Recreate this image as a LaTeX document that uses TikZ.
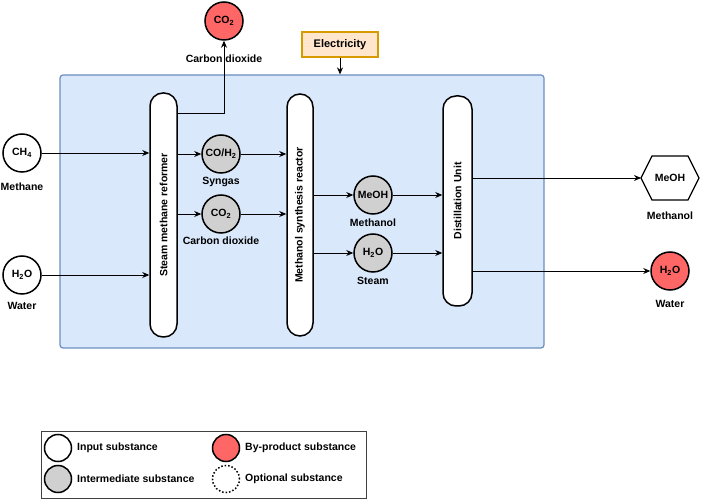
\documentclass[tikz,border=0pt]{standalone}
\usepackage{fontspec}
\setmainfont{Liberation Sans}
\usetikzlibrary{arrows.meta}
\definecolor{boxfill}{HTML}{DAE8FC}
\definecolor{boxline}{HTML}{6C8EBF}
\definecolor{elfill}{HTML}{FFE6CC}
\definecolor{elline}{HTML}{D79B00}
\definecolor{redfill}{HTML}{FF6666}
\definecolor{grayfill}{HTML}{D0D0D0}
\begin{document}
\begin{tikzpicture}[x=1pt,y=-1pt,
  font=\bfseries\fontsize{10.5}{12}\selectfont,
  subst/.style={circle, draw, line width=1.5pt, minimum size=38pt, inner sep=0pt, fill=white},
  inter/.style={subst, fill=grayfill},
  byprod/.style={subst, fill=redfill},
  unitbox/.style={draw, line width=1.5pt, fill=white, rounded corners=13pt, inner sep=0pt},
  lbl/.style={inner sep=0pt},
  arrow/.style={-{Stealth[length=7pt,width=6pt]}, line width=0.9pt},
  legc/.style={circle, draw, line width=1.5pt, minimum size=27pt, inner sep=0pt}]
\useasboundingbox (0,0) rectangle (702,502);
% main box
\node[draw=boxline, fill=boxfill, line width=1.2pt, rounded corners=3pt, minimum width=484pt, minimum height=273pt, inner sep=0pt] (box) at (302,211.5) {};
% electricity
\node[draw=elline, fill=elfill, line width=1.2pt, minimum width=76pt, minimum height=25pt, inner sep=0pt, font=\bfseries\fontsize{11}{12}\selectfont] (elec) at (340,44.5) {Electricity};
% units
\node[unitbox, minimum width=27pt, minimum height=244pt] (smr) at (163.5,215) {\rotatebox{90}{Steam methane reformer}};
\node[unitbox, minimum width=26pt, minimum height=242pt] (msr) at (300,215) {\rotatebox{90}{Methanol synthesis reactor}};
\node[unitbox, minimum width=29pt, minimum height=210pt] (du) at (457.5,201) {\rotatebox{90}{Distillation Unit}};
% inputs
\node[subst] (ch4) at (22,153) {CH\textsubscript{4}};
\node[lbl] (ch4l) at (22,187) {Methane};
\node[subst] (h2oin) at (22,275) {H\textsubscript{2}O};
\node[lbl] (h2oinl) at (22,306) {Water};
% top CO2
\node[byprod] (co2top) at (224,21) {CO\textsubscript{2}};
\node[lbl] (co2topl) at (224,59) {Carbon dioxide};
% intermediates
\node[inter] (coh) at (221,154) {CO/H\textsubscript{2}};
\node[lbl] (cohl) at (221,182) {Syngas};
\node[inter] (co2m) at (221,214) {CO\textsubscript{2}};
\node[lbl] (co2ml) at (221,241) {Carbon dioxide};
\node[inter] (meoh) at (373,195) {MeOH};
\node[lbl] (meohl) at (373,223) {Methanol};
\node[inter] (steam) at (373,253) {H\textsubscript{2}O};
\node[lbl] (steaml) at (373,281) {Steam};
% outputs
\draw[line width=1.2pt, fill=white] (641,178) -- (652,156) -- (688,156) -- (699,178) -- (688,200) -- (652,200) -- cycle;
\coordinate (hexw) at (641,178);
\node[lbl] (meohout) at (670,178) {MeOH};
\node[lbl] (meohoutl) at (670,216) {Methanol};
\node[byprod] (h2oout) at (670,271) {H\textsubscript{2}O};
\node[lbl] (h2ooutl) at (670,304) {Water};
% connectors
\coordinate (smrtop) at (177,113);
\draw[arrow] (smrtop) -| (co2top.south);
\draw[arrow] (elec.south) -- (elec.south |- box.north);
\draw[arrow] (ch4) -- (ch4 -| smr.west);
\draw[arrow] (h2oin) -- (h2oin -| smr.west);
\draw[arrow] (smr.east |- coh) -- (coh);
\draw[arrow] (smr.east |- co2m) -- (co2m);
\draw[arrow] (coh) -- (coh -| msr.west);
\draw[arrow] (co2m) -- (co2m -| msr.west);
\draw[arrow] (msr.east |- meoh) -- (meoh);
\draw[arrow] (msr.east |- steam) -- (steam);
\draw[arrow] (meoh) -- (meoh -| du.west);
\draw[arrow] (steam) -- (steam -| du.west);
\draw[arrow] (du.east |- hexw) -- (hexw);
\draw[arrow] (du.east |- h2oout) -- (h2oout);
% legend
\node[draw=black!75, line width=1pt, minimum width=325pt, minimum height=67pt, inner sep=0pt] (legend) at (203.5,465.5) {};
\node[legc, fill=white] (lin) at (58,448) {};
\node[lbl, anchor=west] (linl) at (77,448) {Input substance};
\node[legc, fill=grayfill] (lint) at (58,479) {};
\node[lbl, anchor=west] (lintl) at (77,479) {Intermediate substance};
\node[legc, fill=redfill] (lby) at (226,448) {};
\node[lbl, anchor=west] (lbyl) at (245,448) {By-product substance};
\node[legc, dotted, fill=white] (lopt) at (226,479) {};
\node[lbl, anchor=west] (loptl) at (245,479) {Optional substance};
\end{tikzpicture}
\end{document}
